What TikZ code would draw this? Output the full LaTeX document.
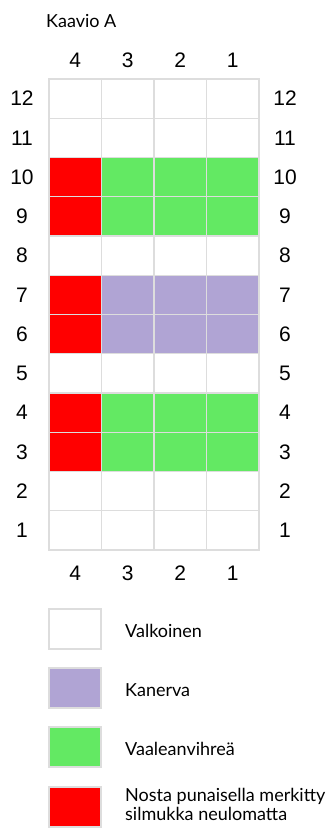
\documentclass[tikz,border=0pt]{standalone}
\usepackage{fontspec}
\setmainfont{Liberation Sans}
\newfontfamily\latofont{Lato}
\usetikzlibrary{positioning}
\definecolor{lila}{HTML}{B0A4D4}
\definecolor{vihrea}{HTML}{63E963}
\definecolor{punainen}{HTML}{FF0000}
\definecolor{viiva}{HTML}{DDDDDD}
\tikzset{
  ruutu/.style={draw=viiva, line width=1.3pt, minimum width=52.5pt, minimum height=39.25pt, inner sep=0pt},
  selite/.style={draw=viiva, line width=1.3pt, minimum width=52pt, minimum height=40pt, inner sep=0pt},
  numero/.style={font=\fontsize{21}{25}\selectfont},
  teksti/.style={font=\latofont\fontsize{18}{19}\selectfont, anchor=west, align=left, inner sep=0pt}
}

\begin{document}
\begin{tikzpicture}[x=1pt,y=-1pt]
\useasboundingbox (0,0) rectangle (333,829);
    \node[teksti] (otsikko) at (46,21) {Kaavio A};
    % chart cells, row / colour of cols 1-3 / colour of col 4
    \foreach \r/\v/\p in {1/white/white, 2/white/white, 3/vihrea/punainen, 4/vihrea/punainen,
        5/white/white, 6/lila/punainen, 7/lila/punainen, 8/white/white,
        9/vihrea/punainen, 10/vihrea/punainen, 11/white/white, 12/white/white} {
      \node[ruutu, fill=\p] (c\r-4) at (75.25, {79+(12-\r)*39.25+19.625}) {};
      \foreach \c in {3,2,1}
        \node[ruutu, fill=\v] (c\r-\c) at ({49+(4-\c)*52.5+26.25}, {79+(12-\r)*39.25+19.625}) {};
      \node[numero] (vasen\r) at (22, {79+(12-\r)*39.25+19.625}) {\r};
      \node[numero] (oikea\r) at (285, {79+(12-\r)*39.25+19.625}) {\r};
    }
    \foreach \c in {4,3,2,1} {
      \node[numero] (yla\c) at ({49+(4-\c)*52.5+26.25}, 60) {\c};
      \node[numero] (ala\c) at ({49+(4-\c)*52.5+26.25}, 573) {\c};
    }
    % legend
    \node[selite, fill=white] (valkoinen) at (75,629) {};
    \node[selite, fill=lila] (kanerva) at (75,688) {};
    \node[selite, fill=vihrea] (vaalea) at (75,747) {};
    \node[selite, fill=punainen] (nosta) at (75,807) {};
    \node[teksti] (tv) at (125,631) {Valkoinen};
    \node[teksti] (tk) at (125,690) {Kanerva};
    \node[teksti] (tva) at (125,749) {Vaaleanvihreä};
    \node[teksti] (tn) at (125,804) {Nosta punaisella merkitty\\silmukka neulomatta};
\end{tikzpicture}
\end{document}
